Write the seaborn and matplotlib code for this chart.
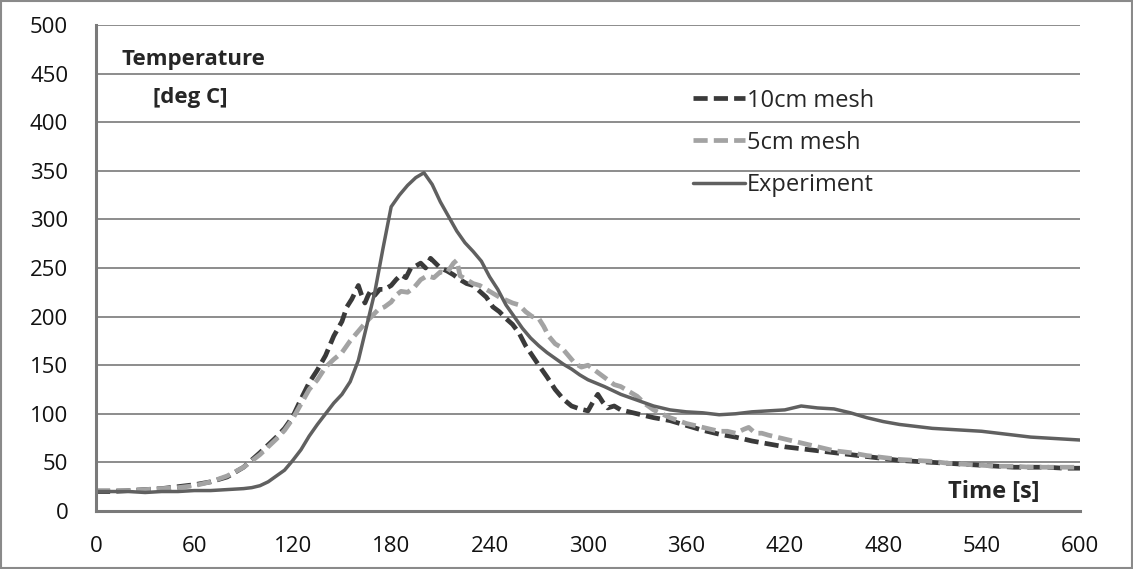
import numpy as np
import pandas as pd
import matplotlib
matplotlib.use("Agg")
import matplotlib.pyplot as plt
import seaborn as sns
from matplotlib.patches import Rectangle

# ---------------------------------------------------------
# Data (time in s, temperature in deg C)
# ---------------------------------------------------------
t_10cm = [0, 10, 20, 30, 40, 50, 60, 70, 80, 90, 100, 105, 110, 115, 120, 125, 130, 135,
          140, 145, 150, 153, 156, 158, 160, 162, 164, 166, 168, 170, 173, 176, 180, 183,
          186, 189, 192, 195, 198, 201, 204, 207, 210, 214, 218, 222, 226, 230, 234, 238,
          242, 246, 250, 254, 258, 262, 266, 270, 275, 280, 285, 290, 295, 300, 303, 306,
          309, 312, 316, 320, 325, 330, 340, 350, 360, 370, 380, 390, 400, 410, 420, 430,
          440, 450, 460, 470, 480, 490, 500, 510, 520, 530, 540, 550, 560, 570, 580, 590, 600]
T_10cm = [20, 20, 21, 22, 23, 25, 27, 30, 35, 45, 60, 68, 76, 85, 97, 115, 132, 145,
          160, 180, 195, 210, 218, 225, 232, 222, 214, 222, 228, 222, 228, 228, 232, 238,
          243, 240, 250, 252, 255, 250, 260, 255, 250, 247, 243, 238, 234, 232, 226, 220,
          210, 205, 198, 192, 183, 170, 160, 150, 138, 125, 115, 108, 105, 103, 112, 120,
          112, 106, 108, 104, 102, 100, 96, 93, 88, 83, 79, 76, 72, 69, 66, 64,
          62, 60, 58, 56, 54, 52, 51, 50, 49, 48, 47, 46, 45, 45, 45, 44, 44]

t_5cm = [0, 10, 20, 30, 40, 50, 60, 70, 80, 90, 100, 105, 110, 115, 120, 125, 130, 135,
         140, 145, 150, 155, 160, 165, 168, 172, 176, 180, 183, 186, 190, 194, 198, 202,
         206, 210, 214, 218, 220, 222, 226, 230, 234, 238, 242, 246, 250, 254, 258, 262,
         266, 270, 273, 276, 280, 284, 288, 292, 296, 300, 304, 308, 312, 316, 320, 325,
         330, 335, 340, 345, 350, 355, 360, 365, 370, 375, 380, 385, 390, 395, 398, 402,
         406, 410, 415, 420, 425, 430, 440, 450, 460, 470, 480, 490, 500, 510, 520, 530,
         540, 550, 560, 570, 580, 590, 600]
T_5cm = [21, 21, 21, 22, 23, 24, 26, 30, 36, 45, 58, 66, 74, 83, 95, 110, 125, 135,
         148, 156, 163, 175, 185, 195, 200, 207, 210, 215, 222, 226, 225, 230, 238, 242,
         240, 246, 245, 255, 258, 242, 238, 234, 232, 228, 224, 220, 217, 214, 212, 205,
         200, 198, 190, 180, 172, 168, 160, 152, 148, 150, 145, 140, 135, 130, 128, 123,
         118, 110, 104, 100, 96, 93, 90, 88, 86, 84, 82, 82, 80, 84, 86, 80,
         80, 78, 76, 74, 72, 70, 66, 62, 60, 57, 55, 53, 52, 51, 49, 48,
         47, 46, 46, 45, 45, 45, 45]

t_exp = [0, 10, 20, 30, 40, 50, 60, 70, 80, 90, 95, 100, 105, 110, 115, 120, 125, 130,
         135, 140, 145, 150, 155, 160, 165, 170, 175, 180, 185, 190, 195, 200, 205, 210,
         215, 220, 225, 230, 235, 240, 245, 250, 255, 260, 265, 270, 275, 280, 285, 290,
         295, 300, 310, 320, 330, 340, 350, 360, 370, 380, 390, 400, 410, 420, 430, 440,
         450, 460, 470, 480, 490, 500, 510, 520, 530, 540, 550, 560, 570, 580, 590, 600]
T_exp = [20, 20, 20, 19, 20, 20, 21, 21, 22, 23, 24, 26, 30, 36, 42, 52, 63, 77,
         89, 100, 111, 120, 133, 155, 190, 225, 270, 313, 325, 335, 343, 348, 336, 318,
         303, 288, 276, 267, 257, 241, 228, 212, 200, 188, 178, 170, 163, 157, 151, 146,
         140, 135, 128, 120, 114, 108, 104, 102, 101, 99, 100, 102, 103, 104, 108, 106,
         105, 101, 96, 92, 89, 87, 85, 84, 83, 82, 80, 78, 76, 75, 74, 73]

x_ticks = [0, 60, 120, 180, 240, 300, 360, 420, 480, 540, 600]
y_ticks = [0, 50, 100, 150, 200, 250, 300, 350, 400, 450, 500]

sns.set_style("white")
plt.rcParams["font.family"] = ["Open Sans", "DejaVu Sans"]

fig = plt.figure(figsize=(11.33, 5.69), dpi=100)
ax = fig.add_axes([0.0847, 0.102, 0.8685, 0.854])

sns.lineplot(x=t_10cm, y=T_10cm, ax=ax, color="#3a3a3a", lw=3.4,
             linestyle=(0, (3.0, 1.3)), label="10cm mesh")
sns.lineplot(x=t_5cm, y=T_5cm, ax=ax, color="#a3a3a3", lw=3.4,
             linestyle=(0, (3.0, 1.3)), label="5cm mesh")
sns.lineplot(x=t_exp, y=T_exp, ax=ax, color="#606060", lw=2.5,
             label="Experiment")

ax.set_xlim(0, 600)
ax.set_ylim(0, 500)
ax.set_xticks(x_ticks)
ax.set_yticks(y_ticks)
ax.tick_params(axis="both", length=0, labelsize=16, colors="#111111")
ax.tick_params(axis="x", pad=18)
ax.tick_params(axis="y", pad=20)
ax.set_xlabel("")
ax.set_ylabel("")

ax.yaxis.grid(True, color="#8c8c8c", lw=1.4)
ax.xaxis.grid(False)
ax.set_axisbelow(True)
for side in ["top", "right"]:
    ax.spines[side].set_visible(False)
for side in ["left", "bottom"]:
    ax.spines[side].set_color("#7a7a7a")
    ax.spines[side].set_linewidth(2.2)

ax.text(0.026, 0.93, "Temperature", transform=ax.transAxes, fontsize=16,
        fontweight="bold", va="center", ha="left")
ax.text(0.058, 0.85, "[deg C]", transform=ax.transAxes, fontsize=16,
        fontweight="bold", va="center", ha="left")
ax.text(0.866, 0.04, "Time [s]", transform=ax.transAxes, fontsize=17,
        fontweight="bold", va="center", ha="left")

leg = ax.legend(loc="upper left", bbox_to_anchor=(0.585, 0.913), frameon=False,
                fontsize=17, handlelength=2.2, handletextpad=0.1, labelspacing=0.77)

fig.patches.append(Rectangle((0.001, 0.001), 0.998, 0.997, transform=fig.transFigure,
                             fill=False, edgecolor="#8a8a8a", lw=1.5))

fig.savefig("out.png", dpi=100)
